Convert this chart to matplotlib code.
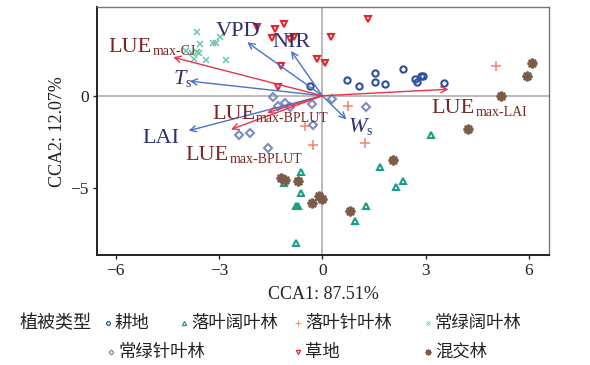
import matplotlib
matplotlib.use('Agg')
import matplotlib.pyplot as plt

plt.rcParams['font.family'] = ['Liberation Serif', 'Noto Sans CJK SC', 'DejaVu Sans']
plt.rcParams['axes.unicode_minus'] = True

# ---------------- data ----------------
groups = ['耕地', '落叶阔叶林', '落叶针叶林', '常绿阔叶林', '常绿针叶林', '草地', '混交林']

gengdi_x = [-0.37, 0.72, 1.07, 1.52, 1.52, 1.81, 2.34, 2.70, 2.76, 2.87, 2.93, 3.54]
gengdi_y = [0.51, 0.85, 0.50, 1.24, 0.74, 0.62, 1.44, 0.90, 0.76, 1.06, 1.09, 0.67]

lykuo_x = [-0.62, -1.10, -0.63, -0.77, -0.71, -0.77, 1.68, 2.33, 2.14, 1.28, 0.96, 3.15]
lykuo_y = [-4.15, -4.70, -5.24, -5.96, -5.96, -7.95, -3.87, -4.59, -4.92, -5.96, -6.77, -2.12]

lyzhen_x = [-0.49, -0.26, 0.76, 1.23, 5.04]
lyzhen_y = [-1.61, -2.64, -0.56, -2.54, 1.61]

clkuo_x = [-3.65, -3.54, -3.17, -3.10, -2.98, -3.97, -3.77, -3.63, -3.59, -3.71, -3.39, -2.81]
clkuo_y = [3.43, 2.78, 2.83, 2.86, 3.16, 2.43, 2.31, 2.38, 2.29, 1.97, 1.93, 1.93]

clzhen_x = [-1.43, -1.28, -1.09, -0.95, -0.30, -0.26, -2.43, -2.10, -1.57, 0.28, 1.27]
clzhen_y = [-0.07, -0.57, -0.42, -0.61, -0.45, -1.58, -2.11, -2.02, -2.81, -0.19, -0.63]

caodi_x = [-1.90, -1.36, -1.12, -1.46, -0.81, -0.93, 0.26, 1.34, -0.14, 0.07, -1.19, -1.28]
caodi_y = [3.73, 3.61, 3.88, 3.10, 3.19, 3.05, 3.20, 4.17, 1.98, 1.79, 1.61, 0.47]

hunjiao_x = [-1.20, -1.07, -0.72, -0.30, -0.11, -0.01, 0.81, 2.04, 6.10, 5.95, 5.18, 4.22]
hunjiao_y = [-4.43, -4.57, -4.61, -5.78, -5.42, -5.56, -6.22, -3.48, 1.75, 1.06, -0.02, -1.82]

# (main text, subscript)
env_names = [('VPD', ''), ('NIR', ''), ('T', 's'), ('LAI', ''), ('W', 's')]
env_x = [-2.18, -0.91, -3.85, -3.88, 0.70]
env_y = [2.89, 2.42, 0.79, -1.89, -1.28]

lue_names = [('LUE', 'max-CJ'), ('LUE', 'max-LAI'), ('LUE', 'max-BPLUT'), ('LUE', 'max-BPLUT')]
lue_x = [-4.33, 3.66, -1.60, -2.65]
lue_y = [2.08, 0.35, -0.92, -1.82]

x_ticks = [-6, -3, 0, 3, 6]
y_ticks = [-5, 0]
x_label = 'CCA1: 87.51%'
y_label = 'CCA2: 12.07%'
legend_title = '植被类型'

# ---------------- styles ----------------
styles = {
    '耕地': dict(marker='o', color='#2f4f9a', filled=False, ms=4.5),
    '落叶阔叶林': dict(marker='^', color='#1a9e84', filled=False, ms=5),
    '落叶针叶林': dict(marker='+', color='#f4836a', filled=True, ms=7),
    '常绿阔叶林': dict(marker='x', color='#6cc5a8', filled=True, ms=4.5),
    '常绿针叶林': dict(marker='D', color='#7a8cc0', filled=False, ms=4),
    '草地': dict(marker='v', color='#e3262b', filled=False, ms=5),
    '混交林': dict(marker=(8, 2, 0), color='#7a5c48', filled=True, ms=7),
}
data = {
    '耕地': (gengdi_x, gengdi_y),
    '落叶阔叶林': (lykuo_x, lykuo_y),
    '落叶针叶林': (lyzhen_x, lyzhen_y),
    '常绿阔叶林': (clkuo_x, clkuo_y),
    '常绿针叶林': (clzhen_x, clzhen_y),
    '草地': (caodi_x, caodi_y),
    '混交林': (hunjiao_x, hunjiao_y),
}

fig = plt.figure(figsize=(5.9, 3.65), dpi=100)
ax = fig.add_axes([97 / 590, 1 - 255 / 365, (549 - 97) / 590, (255 - 7.3) / 365])
ax.set_xlim(-6.54, 6.58)
ax.set_ylim(-8.61, 4.78)

ax.axhline(0, color='#b5b5b5', lw=1.3, zorder=1)
ax.axvline(0, color='#b5b5b5', lw=1.3, zorder=1)


def draw_marker(a, xs, ys, st, scale=1.0, z=3):
    if st['filled']:
        mew = 1.8 if st['marker'] == (8, 2, 0) else 1.1
        a.plot(xs, ys, ls='none', marker=st['marker'], ms=st['ms'] * scale,
               mec=st['color'], mfc=st['color'], mew=mew * scale, zorder=z, clip_on=False)
    else:
        a.plot(xs, ys, ls='none', marker=st['marker'], ms=st['ms'] * scale,
               mec=st['color'], mfc='none', mew=1.5 * scale, zorder=z, clip_on=False)


for g in groups:
    xs, ys = data[g]
    draw_marker(ax, xs, ys, styles[g])

env_color = '#4a72c8'
lue_color = '#e8334a'
env_text_color = '#2e2f6e'
lue_text_color = '#7b2626'

for x, y in zip(env_x, env_y):
    ax.annotate('', xy=(x, y), xytext=(0, 0),
                arrowprops=dict(arrowstyle='->', color=env_color, lw=1.0,
                                mutation_scale=11, shrinkA=0, shrinkB=0), zorder=4)
for x, y in zip(lue_x, lue_y):
    ax.annotate('', xy=(x, y), xytext=(0, 0),
                arrowprops=dict(arrowstyle='->', color=lue_color, lw=1.0,
                                mutation_scale=11, shrinkA=0, shrinkB=0), zorder=4)

env_label_pos = [(-3.10, 3.24), (-1.46, 2.65), (-4.32, 0.62), (-5.23, -2.56), (0.75, -1.95)]
lue_label_pos = [(-6.20, 2.36), (3.18, -0.95), (-3.20, -1.28), (-3.97, -3.48)]


def label(pos, parts, color, italic=False):
    main, sub = parts
    t = ax.text(pos[0], pos[1], main, color=color, fontsize=16, ha='left', va='baseline',
                style='italic' if italic else 'normal', zorder=5)
    if sub:
        ax.annotate(sub, xy=(1, 0), xycoords=t, xytext=(0.5 if not italic else -0.5, 1.5),
                    textcoords='offset points', ha='left', va='baseline',
                    fontsize=10, color=color, zorder=5)


for name, pos in zip(env_names, env_label_pos):
    label(pos, name, env_text_color, italic=name[1] != '')
for name, pos in zip(lue_names, lue_label_pos):
    label(pos, name, lue_text_color)

ax.set_xticks(x_ticks)
ax.set_yticks(y_ticks)
ax.set_xticklabels([f'{t}'.replace('-', '\u2212') for t in x_ticks])
ax.set_yticklabels([f'{t}'.replace('-', '\u2212') for t in y_ticks])
ax.tick_params(direction='out', length=3, width=1, labelsize=12.5, pad=3,
               top=False, right=False, colors='#222222')
for s in ['left', 'bottom']:
    ax.spines[s].set_color('#222222')
    ax.spines[s].set_linewidth(1.4)
for s in ['top', 'right']:
    ax.spines[s].set_color('#777777')
    ax.spines[s].set_linewidth(1.0)

ax.set_xlabel(x_label, fontsize=13, labelpad=5, color='#222222')
ax.set_ylabel(y_label, fontsize=13, labelpad=3, color='#222222')

# ---------------- legend (manual layout) ----------------
lax = fig.add_axes([0, 0, 1, 1], facecolor='none')
lax.set_xlim(0, 590)
lax.set_ylim(365, 0)
lax.axis('off')

lax.text(20, 323, legend_title, fontsize=13, ha='left', va='center',
         family=['Noto Sans CJK SC', 'DejaVu Sans'], color='#222222')
legend_pos = {
    '耕地': (108, 323), '落叶阔叶林': (184, 323), '落叶针叶林': (298, 323), '常绿阔叶林': (428, 323),
    '常绿针叶林': (111, 352), '草地': (298, 352), '混交林': (428, 352),
}
for g in groups:
    px, py = legend_pos[g]
    draw_marker(lax, [px], [py], styles[g], scale=0.6)
    lax.text(px + 7, py, g, fontsize=12.5, ha='left', va='center',
             family=['Noto Sans CJK SC', 'DejaVu Sans'], color='#222222')

fig.savefig('out.png', dpi=100)
